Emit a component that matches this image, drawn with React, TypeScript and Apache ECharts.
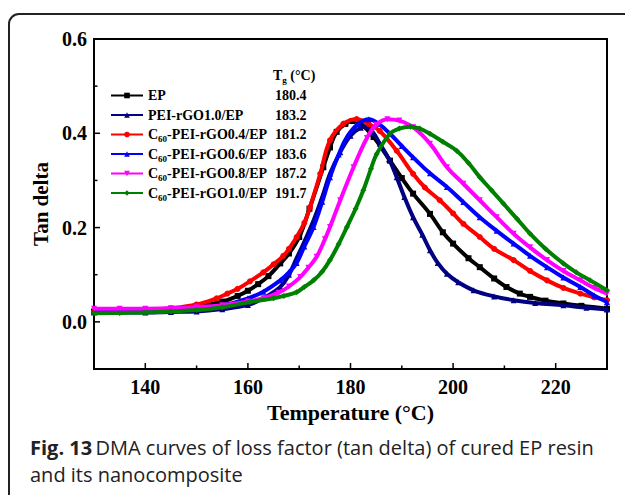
import React, { useEffect, useRef } from "react";
import * as echarts from "echarts";

const seriesNames = [
  "EP",
  "PEI-rGO1.0/EP",
  "C60-PEI-rGO0.4/EP",
  "C60-PEI-rGO0.6/EP",
  "C60-PEI-rGO0.8/EP",
  "C60-PEI-rGO1.0/EP",
];
const tgValues = ["180.4", "183.2", "181.2", "183.6", "187.2", "191.7"];
const colors = ["#000000", "#000080", "#ff0000", "#0000ff", "#ff00ff", "#008000"];
const symbols = ["rect", "triangle", "circle", "triangle", "triangle", "diamond"];
const symbolRotations = [0, 0, 0, 0, 180, 0];

const xMajorTicks = [140, 160, 180, 200, 220];
const xMinorTicks = [150, 170, 190, 210];
const yMajorTicks = [0, 0.2, 0.4, 0.6];
const yMinorTicks = [0.1, 0.3, 0.5];

const epData: [number, number][] = [
  [130, 0.022], [135, 0.023], [140, 0.024], [145, 0.027], [150, 0.033], [155, 0.043],
  [158, 0.055], [160, 0.066], [162, 0.08], [164, 0.097], [166.3, 0.124], [168, 0.145],
  [170, 0.18], [172, 0.24], [174.7, 0.328], [176, 0.37], [177.3, 0.403], [179, 0.42],
  [180.4, 0.426], [182, 0.42], [184.5, 0.392], [187.7, 0.342], [190, 0.305], [192.2, 0.272],
  [195.5, 0.229], [198, 0.19], [200, 0.166], [203, 0.135], [205.2, 0.116], [208, 0.092],
  [210.4, 0.074], [213, 0.06], [215, 0.053], [218, 0.045], [221.5, 0.039], [225, 0.034],
  [230, 0.028],
];
const peiData: [number, number][] = [
  [130, 0.02], [140, 0.02], [145, 0.021], [150, 0.022], [155, 0.027], [160, 0.036],
  [163, 0.05], [166.3, 0.074], [168, 0.1], [169.5, 0.135], [171, 0.17], [172.8, 0.215],
  [174.5, 0.265], [176, 0.314], [178, 0.36], [180, 0.395], [182, 0.412], [183.2, 0.415],
  [184.5, 0.4], [185.7, 0.378], [187.5, 0.345], [189, 0.307], [190.5, 0.265], [192.2, 0.222],
  [194, 0.185], [195.5, 0.152], [197, 0.125], [198.8, 0.102], [201, 0.084], [204, 0.067],
  [208, 0.054], [211.8, 0.046], [216, 0.04], [221.5, 0.035], [226, 0.03], [230, 0.026],
];
const c04Data: [number, number][] = [
  [130, 0.022], [135, 0.023], [140, 0.025], [145, 0.029], [150, 0.037], [153.9, 0.05],
  [156, 0.06], [158, 0.07], [160.4, 0.086], [163, 0.105], [165, 0.122], [166.9, 0.14],
  [168, 0.155], [169.5, 0.18], [171, 0.21], [172.1, 0.243], [174.1, 0.314], [176, 0.385],
  [178.6, 0.42], [181.2, 0.43], [183.5, 0.42], [185.7, 0.405], [189, 0.363], [192.2, 0.314],
  [194.5, 0.285], [197.4, 0.258], [200, 0.23], [202, 0.208], [205.2, 0.18], [208, 0.155],
  [211.8, 0.131], [215, 0.108], [218.3, 0.088], [221.5, 0.072], [224.8, 0.06], [227.5, 0.052],
  [230, 0.046],
];
const c06Data: [number, number][] = [
  [130, 0.022], [140, 0.023], [145, 0.025], [150, 0.028], [155, 0.035], [160, 0.05],
  [163, 0.064], [166.3, 0.088], [168, 0.105], [169.5, 0.125], [171, 0.16], [172.8, 0.201],
  [174.5, 0.255], [176, 0.307], [177.7, 0.355], [179.3, 0.392], [181.5, 0.42], [183.6, 0.43],
  [185.5, 0.42], [187.7, 0.399], [190, 0.373], [192.2, 0.349], [195.5, 0.315], [198.8, 0.286],
  [202, 0.254], [205.2, 0.222], [208.5, 0.193], [211.8, 0.166], [215, 0.14], [218.3, 0.116],
  [221.5, 0.094], [224.8, 0.074], [227.5, 0.056], [230, 0.042],
];
const c08Data: [number, number][] = [
  [130, 0.028], [135, 0.028], [140, 0.028], [145, 0.029], [150, 0.031], [155, 0.035],
  [160, 0.043], [163, 0.05], [166, 0.062], [168, 0.075], [170.2, 0.095], [171.8, 0.115],
  [173.4, 0.138], [175, 0.175], [176, 0.201], [178, 0.258], [180.6, 0.328], [183.2, 0.39],
  [185, 0.418], [187.2, 0.43], [189.5, 0.427], [192.2, 0.413], [195.5, 0.378], [198.8, 0.328],
  [202, 0.293], [205.2, 0.258], [208.5, 0.222], [211.8, 0.187], [215, 0.158], [218.3, 0.131],
  [221.5, 0.108], [224.8, 0.088], [227.5, 0.072], [230, 0.06],
];
const c10Data: [number, number][] = [
  [130, 0.018], [135, 0.019], [140, 0.02], [145, 0.022], [150, 0.025], [155, 0.031],
  [160.4, 0.042], [165, 0.05], [167, 0.055], [169.5, 0.063], [171, 0.074], [172.8, 0.088],
  [174.5, 0.107], [176, 0.131], [177.7, 0.165], [179.3, 0.201], [181, 0.24], [182.5, 0.279],
  [184, 0.325], [185.1, 0.356], [187.7, 0.399], [189.5, 0.41], [191.7, 0.414], [193.5, 0.41],
  [195.5, 0.399], [198, 0.382], [200.7, 0.363], [203, 0.337], [205.2, 0.307], [207.5, 0.279],
  [209.8, 0.251], [212.5, 0.218], [215, 0.187], [218, 0.155], [221.5, 0.124], [224, 0.105],
  [226.7, 0.088], [230, 0.067],
];
const allData = [epData, peiData, c04Data, c06Data, c08Data, c10Data];

const X_MIN = 130;
const Y_MIN = -0.1;

const SERIF = "'Liberation Serif', 'Times New Roman', serif";
const SANS = "'Open Sans', 'Noto Sans', sans-serif";

function legendLabel(name: string): string {
  if (name.startsWith("C60")) return "{n|C}{s|60}{n|" + name.slice(3) + "}";
  return "{n|" + name + "}";
}

function tickSeries(values: number[], axis: "x" | "y", len: number) {
  return {
    type: "custom",
    coordinateSystem: "cartesian2d",
    silent: true,
    clip: false,
    z: 20,
    data: values.map((v) => (axis === "x" ? [v, Y_MIN] : [X_MIN, v])),
    encode: { x: 0, y: 1 },
    renderItem: (_params: any, api: any) => {
      const p = api.coord([api.value(0), api.value(1)]);
      const shape =
        axis === "x"
          ? { x1: p[0], y1: p[1], x2: p[0], y2: p[1] - len }
          : { x1: p[0], y1: p[1], x2: p[0] + len, y2: p[1] };
      return { type: "line", shape, style: { stroke: "#000", lineWidth: 1.5 } };
    },
  };
}

export default function App() {
  const ref = useRef<HTMLDivElement>(null);
  useEffect(() => {
    if (!ref.current) return;
    const chart = echarts.init(ref.current, null, { renderer: "svg" });
    const rowTop = 95.5;
    const rowStep = 19.5;
    const richStyles = {
      n: { fontFamily: SERIF, fontWeight: "bold", fontSize: 14, color: "#000", lineHeight: 18 },
      s: { fontFamily: SERIF, fontWeight: "bold", fontSize: 9, color: "#000", lineHeight: 18, verticalAlign: "bottom" },
    };
    const option: any = {
      animation: false,
      backgroundColor: "#ffffff",
      grid: { left: 94, right: 18, top: 39, bottom: 126, show: true, borderColor: "#000", borderWidth: 2, backgroundColor: "transparent" },
      legend: {
        orient: "vertical",
        left: 110,
        top: rowTop - 9,
        padding: 0,
        itemWidth: 32,
        itemHeight: 7,
        itemGap: 1.5,
        data: seriesNames,
        formatter: legendLabel,
        textStyle: { height: 18, lineHeight: 18, rich: richStyles },
      },
      xAxis: {
        type: "value",
        min: X_MIN,
        max: 230,
        name: "Temperature (°C)",
        nameLocation: "middle",
        nameGap: 31,
        nameTextStyle: { fontFamily: SERIF, fontWeight: "bold", fontSize: 22, color: "#000" },
        axisLine: { show: true, onZero: false, lineStyle: { color: "#000", width: 2 } },
        axisTick: { show: false },
        axisLabel: { customValues: xMajorTicks, fontFamily: SERIF, fontWeight: "bold", fontSize: 20, color: "#000", margin: 8 },
        splitLine: { show: false },
      },
      yAxis: {
        type: "value",
        min: Y_MIN,
        max: 0.6,
        name: "Tan delta",
        nameLocation: "middle",
        nameGap: 42,
        nameTextStyle: { fontFamily: SERIF, fontWeight: "bold", fontSize: 21, color: "#000" },
        axisLine: { show: true, onZero: false, lineStyle: { color: "#000", width: 2 } },
        axisTick: { show: false },
        axisLabel: {
          customValues: yMajorTicks,
          formatter: (v: number) => v.toFixed(1),
          fontFamily: SERIF,
          fontWeight: "bold",
          fontSize: 20,
          color: "#000",
          margin: 7,
        },
        splitLine: { show: false },
      },
      series: [
        ...seriesNames.map((name, i) => ({
          name,
          type: "line",
          data: allData[i],
          smooth: 0.4,
          symbol: symbols[i],
          symbolRotate: symbolRotations[i],
          symbolSize: 6,
          showSymbol: true,
          color: colors[i],
          lineStyle: { color: colors[i], width: 4 },
          itemStyle: { color: colors[i] },
          z: 2 + i,
        })),
        tickSeries(xMajorTicks, "x", 6),
        tickSeries(xMinorTicks, "x", 3.5),
        tickSeries(yMajorTicks, "y", 6),
        tickSeries(yMinorTicks, "y", 3.5),
      ],
      graphic: [
        {
          type: "rect",
          shape: { x: 9, y: 14, width: 700, height: 600, r: [10, 0, 0, 0] },
          style: { fill: "none", stroke: "#222", lineWidth: 2 },
          silent: true,
          z: 100,
        },
        {
          type: "text",
          x: 273,
          y: 66,
          style: { text: "{n|T}{s|g}{n| (°C)}", rich: richStyles },
          z: 100,
        },
        ...tgValues.map((t, i) => ({
          type: "text",
          x: 275,
          y: rowTop + i * rowStep,
          style: {
            text: t,
            fontFamily: SERIF,
            fontWeight: "bold",
            fontSize: 14,
            fill: "#000",
            verticalAlign: "middle",
          },
          z: 100,
        })),
        {
          type: "text",
          x: 30,
          y: 434,
          style: {
            text: "{b|Fig. 13} {r|DMA curves of loss factor (tan delta) of cured EP resin}\n{r|and its nanocomposite}",
            rich: {
              b: { fontFamily: SANS, fontWeight: "bold", fontSize: 20, fill: "#222", lineHeight: 27 },
              r: { fontFamily: SANS, fontWeight: "normal", fontSize: 20, fill: "#222", lineHeight: 27 },
            },
          },
          z: 100,
        },
      ],
    };
    chart.setOption(option);
    return () => chart.dispose();
  }, []);
  return <div ref={ref} style={{ position: "fixed", left: 0, top: 0, width: 625, height: 495 }} />;
}
